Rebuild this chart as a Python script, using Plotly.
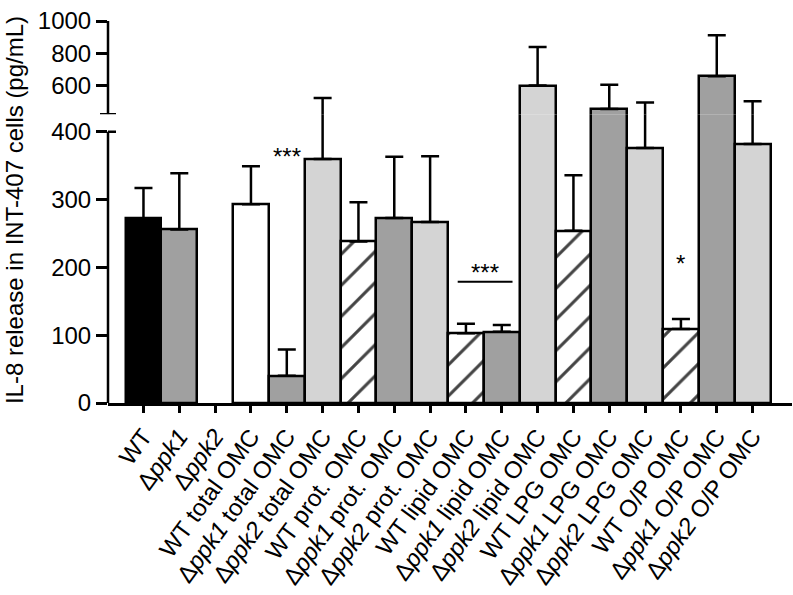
import plotly.graph_objects as go

categories = ["WT", "Δ<i>ppk1</i>", "Δ<i>ppk2</i>",
              "WT total OMC", "Δ<i>ppk1</i> total OMC", "Δ<i>ppk2</i> total OMC",
              "WT prot. OMC", "Δ<i>ppk1</i> prot. OMC", "Δ<i>ppk2</i> prot. OMC",
              "WT lipid OMC", "Δ<i>ppk1</i> lipid OMC", "Δ<i>ppk2</i> lipid OMC",
              "WT LPG OMC", "Δ<i>ppk1</i> LPG OMC", "Δ<i>ppk2</i> LPG OMC",
              "WT O/P OMC", "Δ<i>ppk1</i> O/P OMC", "Δ<i>ppk2</i> O/P OMC"]
means = [272, 256, None, 293, 40, 360, 238, 273, 267, 103, 105, 602, 254, 457, 376, 109, 660, 382]
errors = [45, 83, 0, 56, 39, 166, 58, 90, 97, 14, 10, 238, 82, 151, 122, 15, 252, 124]
styles = ["black", "dark", "white", "white", "dark", "light", "hatch", "dark", "light",
          "hatch", "dark", "light", "hatch", "dark", "light", "hatch", "dark", "light"]
lower_ticks = [0, 100, 200, 300, 400]
upper_ticks = [600, 800, 1000]

colors = {"black": "#000000", "dark": "#a0a0a0", "light": "#d4d4d4", "white": "#ffffff", "hatch": "#ffffff"}
x = list(range(len(categories)))
fill = [colors[s] for s in styles]
shapes_pat = ["/" if s == "hatch" else "" for s in styles]

FONT = "Liberation Sans, Arial, sans-serif"
FS = 24

fig = go.Figure()
for yax in ["y", "y2"]:
    fig.add_trace(go.Bar(
        x=x, y=means, yaxis=yax,
        marker=dict(color=fill, line=dict(color="black", width=2.5),
                    pattern=dict(shape=shapes_pat, fgcolor="black", bgcolor="white",
                                 fgopacity=1, size=22, solidity=0.14, fillmode="overlay")),
        error_y=dict(type="data", array=errors, symmetric=False, arrayminus=[0]*len(errors),
                     color="black", thickness=2.5, width=9),
        width=1.0, showlegend=False, hoverinfo="skip",
    ))

W, H = 793, 595
L, R, T = 108, 1, 20.7
plot_h = 382.6
B = H - T - plot_h
pw = W - L - R
split = (403.3 - 114) / plot_h

fig.update_layout(
    width=W, height=H,
    margin=dict(l=L, r=R, t=T, b=B),
    plot_bgcolor="white", paper_bgcolor="white",
    bargap=0,
    font=dict(family=FONT, size=FS, color="black"),
    xaxis=dict(range=[-0.99, 18.1], tickvals=x, ticktext=categories, tickangle=-54,
               showline=True, linewidth=2.5, linecolor="black", ticks="outside",
               ticklen=7, tickwidth=2.5, tickcolor="black", showgrid=False, zeroline=False,
               automargin=False, ticklabeloverflow="allow", tickfont=dict(family=FONT, size=FS)),
    yaxis=dict(domain=[0, split], range=[0, 426], tickvals=lower_ticks, showline=False,
               ticks="outside", ticklen=11, tickwidth=2.5, tickcolor="black",
               showgrid=False, zeroline=False, automargin=False, ticklabeloverflow="allow",
               tickfont=dict(family=FONT, size=FS)),
    yaxis2=dict(domain=[split, 1], range=[426, 1000.2], tickvals=upper_ticks, anchor="x",
                showline=False, ticks="outside", ticklen=11, tickwidth=2.5, tickcolor="black",
                showgrid=False, zeroline=False, automargin=False, ticklabeloverflow="allow",
                tickfont=dict(family=FONT, size=FS)),
)

cap = 8 / pw
shapes = [
    dict(type="line", xref="paper", yref="y", x0=0, x1=0, y0=0, y1=400,
         line=dict(color="black", width=2.5)),
    dict(type="line", xref="paper", yref="y2", x0=0, x1=0, y0=426, y1=1000,
         line=dict(color="black", width=2.5)),
    dict(type="line", xref="paper", yref="y", x0=0, x1=cap, y0=400, y1=400,
         line=dict(color="black", width=2.5)),
    dict(type="line", xref="paper", yref="y2", x0=-cap, x1=cap, y0=426, y1=426,
         line=dict(color="black", width=2.5)),
    # significance bar over lipid OMC
    dict(type="line", xref="x", yref="y", x0=8.77, x1=10.3, y0=179, y1=179,
         line=dict(color="black", width=2)),
]
fig.update_layout(shapes=shapes)

annotations = [
    dict(x=4, y=363, xref="x", yref="y", text="***", showarrow=False,
         font=dict(family=FONT, size=FS)),
    dict(x=9.53, y=192, xref="x", yref="y", text="***", showarrow=False,
         font=dict(family=FONT, size=FS)),
    dict(x=15, y=206, xref="x", yref="y", text="*", showarrow=False,
         font=dict(family=FONT, size=FS)),
    dict(x=-94 / pw, y=0.505, xref="paper", yref="paper", textangle=-90,
         text="IL-8 release in INT-407 cells (pg/mL)", showarrow=False,
         font=dict(family=FONT, size=FS), xanchor="center", yanchor="middle"),
]
fig.update_layout(annotations=annotations)

fig.write_html("out.html", config={"displayModeBar": False},
               post_script="document.body.style.margin='0';document.body.style.overflow='hidden';")
